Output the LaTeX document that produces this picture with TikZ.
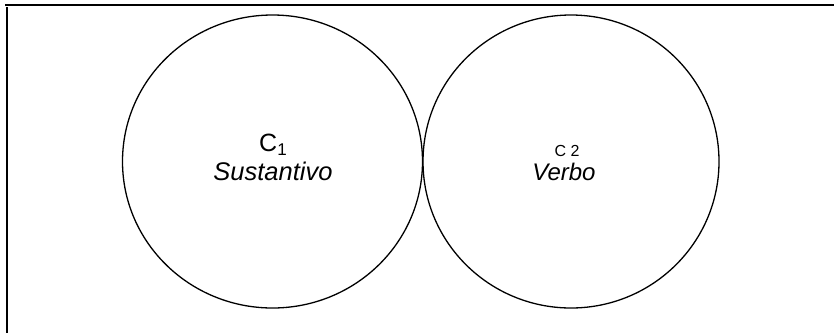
\documentclass[tikz,border=0pt]{standalone}
\usepackage{fontspec}
\setmainfont{Liberation Sans}
\usetikzlibrary{shapes.geometric}
\begin{document}
\begin{tikzpicture}[x=1pt,y=-1pt,
  frameline/.style={line width=1.6pt},
  setcircle/.style={draw, ellipse, line width=1.3pt, inner sep=0pt},
  lbl/.style={inner sep=0pt, anchor=base}]
\useasboundingbox (0,0) rectangle (834,333);
\coordinate (f0) at (5,4.7);
\coordinate (f1) at (834,4.7);
\coordinate (f2) at (6.7,7);
\coordinate (f3) at (6.7,333);
\draw[frameline] (f0) -- (f1);
\draw[frameline] (f2) -- (f3);
\node[setcircle, minimum width=300pt, minimum height=293pt] (c1) at (272.5,161.5) {};
\node[setcircle, minimum width=296pt, minimum height=293pt] (c2) at (571,161.5) {};
\node[lbl] (l1) at (273,151) {\fontsize{25}{25}\selectfont C\raisebox{-4pt}{\fontsize{17}{17}\selectfont 1}};
\node[lbl] (n1) at (273,180) {\fontsize{25.5}{25.5}\selectfont\itshape Sustantivo};
\node[lbl] (l2) at (567,156) {\fontsize{16}{16}\selectfont C 2};
\node[lbl] (n2) at (564,180) {\fontsize{24}{24}\selectfont\itshape Verbo};
\end{tikzpicture}
\end{document}
